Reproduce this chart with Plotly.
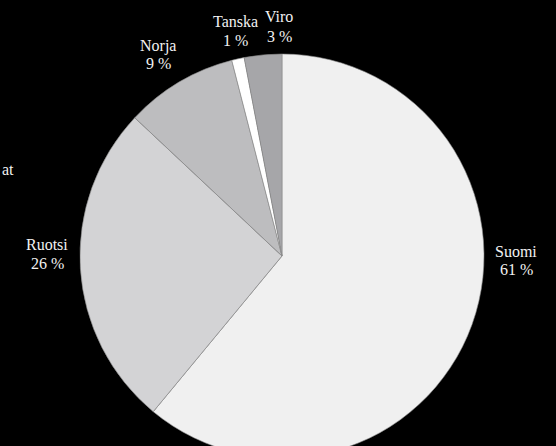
import plotly.graph_objects as go

# Share by country (%)
countries = ["Suomi", "Ruotsi", "Norja", "Tanska", "Viro"]
shares = [61, 26, 9, 1, 3]
slice_colors = ["#f0f0f0", "#d3d3d5", "#bdbdbf", "#ffffff", "#a6a6a9"]

W, H = 556, 470
cx, cy, r = 282, 256, 202  # pie centre and radius in px from top-left

# label placement: x centre, then vertical centre of name line and value line (px)
label_pos = {
    "Suomi": (516, 251, 269.5),
    "Ruotsi": (47, 245, 263.5),
    "Norja": (158, 46, 64),
    "Tanska": (235, 21.5, 40.5),
    "Viro": (279, 16.5, 36),
}

SERIF = "Liberation Serif, Times New Roman, serif"
LABEL_FONT = dict(family=SERIF, size=16, color="#f2f2f2")

fig = go.Figure(
    go.Pie(
        labels=countries,
        values=shares,
        textinfo="none",
        sort=False,
        direction="clockwise",
        rotation=0,
        marker=dict(colors=slice_colors, line=dict(color="#8a8a8a", width=0.6)),
        domain=dict(
            x=[(cx - r) / W, (cx + r) / W],
            y=[(H - (cy + r)) / H, (H - (cy - r)) / H],
        ),
        showlegend=False,
        hoverinfo="label+percent",
    )
)

for name, val in zip(countries, shares):
    lx, ny, vy = label_pos[name]
    for txt, ly in ((name, ny), (f"{val} %", vy)):
        fig.add_annotation(
            text=txt, x=lx / W, y=(H - ly) / H, xref="paper", yref="paper",
            xanchor="center", yanchor="middle", showarrow=False,
            font=LABEL_FONT,
        )

fig.add_annotation(
    text="at", x=0, y=(H - 170) / H, xref="paper", yref="paper",
    xanchor="left", yanchor="middle", showarrow=False,
    font=LABEL_FONT,
)

fig.update_layout(
    width=W, height=H, autosize=False,
    margin=dict(l=0, r=0, t=0, b=0),
    paper_bgcolor="#000000", plot_bgcolor="#000000",
    font=dict(family=SERIF),
)

fig.write_html(
    "out.html",
    post_script="document.documentElement.style.overflow='hidden';document.body.style.overflow='hidden';document.body.style.margin='0';",
)
